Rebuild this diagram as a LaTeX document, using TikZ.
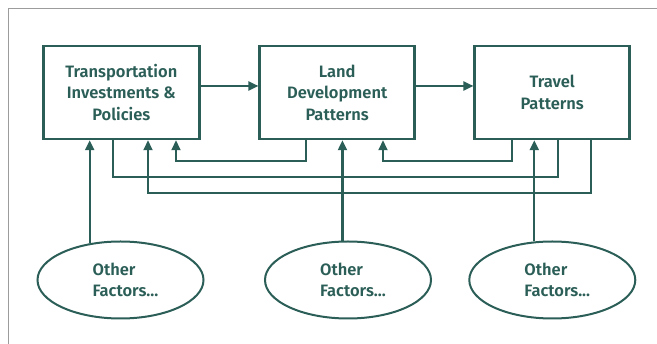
\documentclass[tikz,border=0pt]{standalone}
\usepackage{fontspec}
\setmainfont{Fira Sans SemiBold}
\usetikzlibrary{arrows.meta,shapes.geometric}
\definecolor{dkteal}{HTML}{2B5E57}
\definecolor{framegray}{HTML}{9C9C9C}
\newcommand{\ovind}{\hspace*{10pt}}
\begin{document}
\begin{tikzpicture}[x=1pt,y=-1pt,
  every node/.style={text=dkteal, font=\fontsize{16.5}{21.5}\selectfont},
  box/.style={draw=dkteal, line width=2.5pt, minimum height=93pt, inner sep=0pt, align=center},
  oval/.style={draw=dkteal, ellipse, line width=2pt, minimum width=166pt, minimum height=77pt, inner sep=0pt, align=left},
  conn/.style={draw=dkteal, line width=2.1pt},
  arr/.style={conn, -{Triangle[length=10pt,width=9pt]}}]
\useasboundingbox (0,0) rectangle (657,344);
\draw[framegray, line width=1.2pt] (8.5,344) -- (8.5,8.5) -- (657,8.5);

\node[box, minimum width=156pt] (b1) at (121.3,92.5) {Transportation\\Investments \&\\Policies};
\node[box, minimum width=155pt] (b2) at (337.2,92.5) {Land\\Development\\Patterns};
\node[box, minimum width=155pt] (b3) at (552.2,92.5) {Travel\\Patterns};

\node[oval] (e1) at (120.5,280) {\ovind Other\\\ovind Factors...};
\node[oval] (e2) at (348,280) {\ovind Other\\\ovind Factors...};
\node[oval] (e3) at (552.3,280) {\ovind Other\\\ovind Factors...};

\draw[arr] ([yshift=6.5pt]b1.east) -- ([yshift=6.5pt]b2.west);
\draw[arr] ([yshift=6.5pt]b2.east) -- ([yshift=6.5pt]b3.west);

\draw[arr] ([xshift=-31.2pt]b2.south) |- (176,161) -- ([xshift=54.7pt]b1.south);
\draw[arr] ([xshift=-39.9pt]b3.south) |- (383,161) -- ([xshift=45.8pt]b2.south);
\draw[conn] ([xshift=5.5pt]b3.south) |- (112.7,176.7) -- ([xshift=-8.6pt]b1.south);
\draw[arr] ([xshift=39.1pt]b3.south) |- (148,192.7) -- ([xshift=26.7pt]b1.south);

\draw[arr] (e1.130.4) -- (e1.130.4 |- b1.south);
\draw[arr] (e2.98.9) -- (e2.98.9 |- b2.south);
\draw[arr] (e3.115.6) -- (e3.115.6 |- b3.south);
\end{tikzpicture}
\end{document}
